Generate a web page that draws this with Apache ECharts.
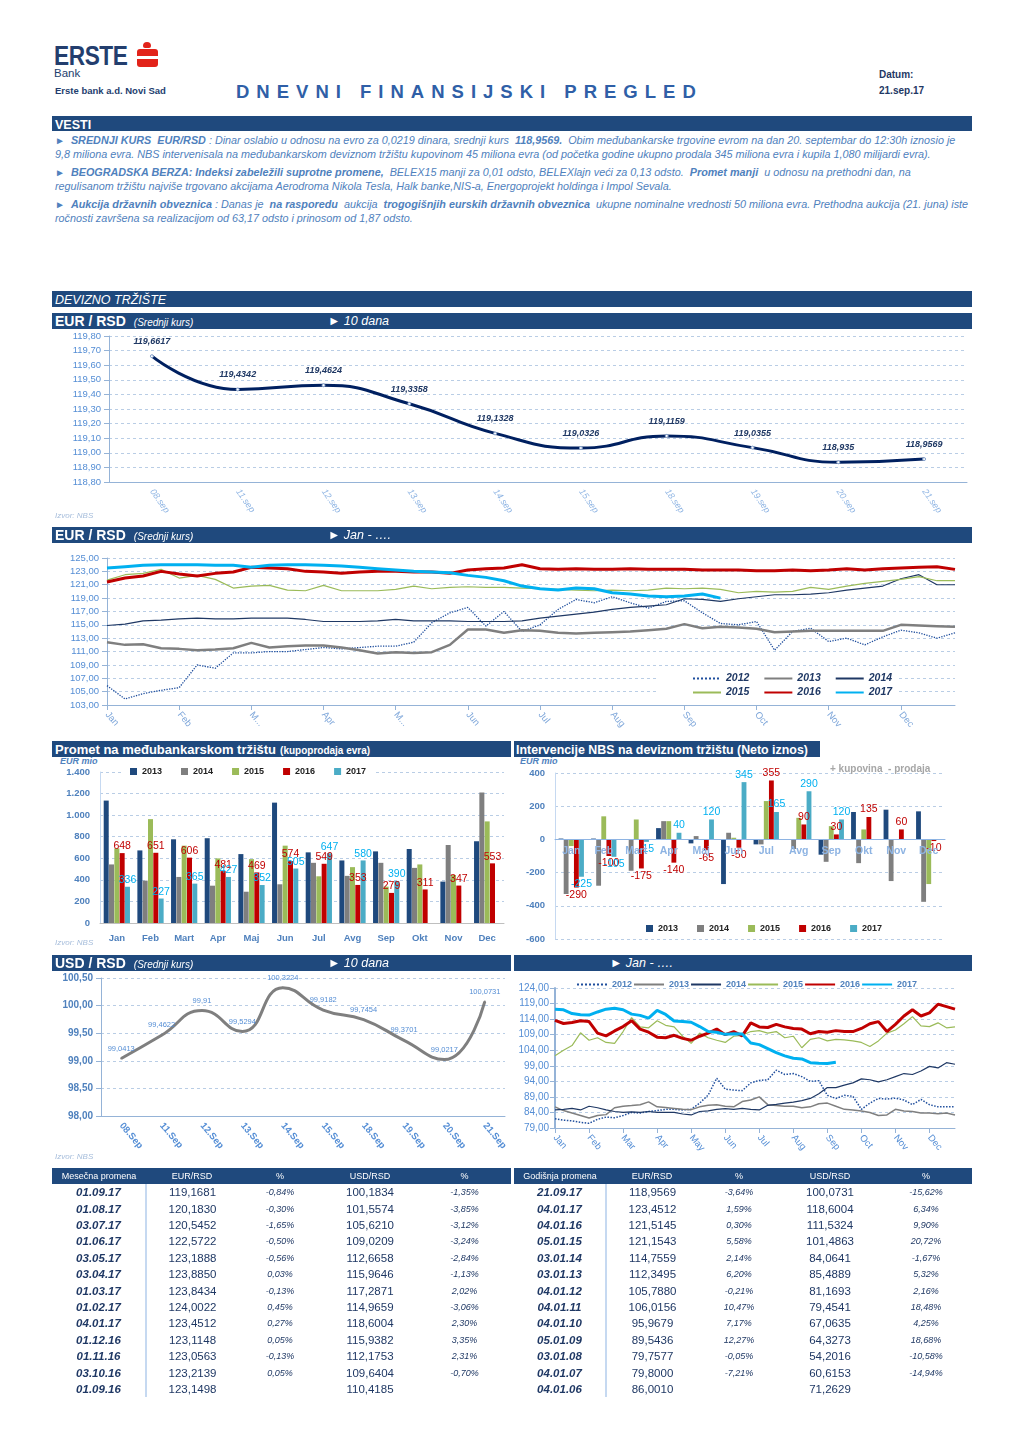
<!DOCTYPE html>
<html><head><meta charset="utf-8">
<script src="https://cdn.jsdelivr.net/npm/echarts@6/dist/echarts.min.js"></script>
<style>
body{margin:0;background:#fff;font-family:"Liberation Sans",Arial,sans-serif;}
#page{position:relative;width:1020px;height:1442px;overflow:hidden;}
.abs{position:absolute;white-space:nowrap;}
.bar{position:absolute;background:#1F497D;color:#fff;height:16px;line-height:16px;white-space:nowrap;overflow:hidden;}
.news{position:absolute;left:55px;font-size:10.8px;font-style:italic;color:#4F81BD;line-height:13.5px;white-space:nowrap;}
.news .ar{color:#4F81BD;font-style:normal;font-size:10px;}
.chart{position:absolute;}
.izvor{position:absolute;font-size:8px;font-style:italic;color:#A6BDDB;}
.eurmio{position:absolute;font-size:9px;font-style:italic;font-weight:bold;color:#4F81BD;}
table{border-collapse:collapse;table-layout:fixed;}
.tbl{position:absolute;}
.tbl th{background:#1F497D;color:#fff;font-weight:normal;font-size:9px;height:16px;padding:0;}
.tbl td{height:16.42px;padding:0;text-align:center;color:#1F3864;font-size:11.5px;line-height:16px;}
.tbl td.d{font-weight:bold;font-style:italic;border-right:2px solid #C6D9F1;}
.tbl td.p{font-style:italic;font-size:9px;}
</style></head>
<body><div id="page">

<!-- header -->
<div class="abs" style="left:54px;top:41px;font-size:27px;font-weight:bold;color:#233E6E;transform:scaleX(0.84);transform-origin:left top;letter-spacing:-0.5px;">ERSTE</div>
<div class="abs" style="left:143px;top:42px;width:8px;height:6px;border-radius:4px 4px 2px 2px;background:#E2231A;"></div>
<div class="abs" style="left:137px;top:49px;width:21px;height:18px;border-radius:3px;background:#E2231A;"></div>
<div class="abs" style="left:137px;top:56px;width:21px;height:3px;background:#fff;"></div>
<div class="abs" style="left:54px;top:67px;font-size:11.5px;color:#233E6E;">Bank</div>
<div class="abs" style="left:55px;top:85px;font-size:9.5px;font-weight:bold;color:#233E6E;">Erste bank a.d. Novi Sad</div>
<div class="abs" style="left:236px;top:81px;font-size:18.5px;font-weight:bold;color:#2F5FA7;letter-spacing:7px;">DNEVNI FINANSIJSKI PREGLED</div>
<div class="abs" style="left:879px;top:69px;font-size:10px;font-weight:bold;color:#1F3864;">Datum:</div>
<div class="abs" style="left:879px;top:85px;font-size:10px;font-weight:bold;color:#1F3864;">21.sep.17</div>

<!-- news -->
<div class="bar" style="left:52px;top:116px;width:920px;height:15px;line-height:15px;"><span style="padding-left:3px;font-weight:bold;font-size:12.5px;">VESTI</span></div>
<div class="news" style="top:134px;"><span class="ar">►</span>&nbsp; <b>SREDNJI KURS&nbsp; EUR/RSD</b> : Dinar oslabio u odnosu na evro za 0,0219 dinara, srednji kurs&nbsp; <b>118,9569.</b>&nbsp; Obim međubankarske trgovine evrom na dan 20. septembar do 12:30h iznosio je<br>9,8 miliona evra. NBS intervenisala na međubankarskom deviznom tržištu kupovinom 45 miliona evra (od početka godine ukupno prodala 345 miliona evra i kupila 1,080 milijardi evra).</div>
<div class="news" style="top:166px;"><span class="ar">►</span>&nbsp; <b>BEOGRADSKA BERZA: Indeksi zabeležili suprotne promene,</b>&nbsp; BELEX15 manji za 0,01 odsto, BELEXlajn veći za 0,13 odsto.&nbsp; <b>Promet manji</b>&nbsp; u odnosu na prethodni dan, na<br>regulisanom tržištu najviše trgovano akcijama Aerodroma Nikola Tesla, Halk banke,NIS-a, Energoprojekt holdinga i Impol Sevala.</div>
<div class="news" style="top:198px;"><span class="ar">►</span>&nbsp; <b>Aukcija državnih obveznica</b> : Danas je&nbsp; <b>na rasporedu</b>&nbsp; aukcija&nbsp; <b>trogogišnjih eurskih državnih obveznica</b>&nbsp; ukupne nominalne vrednosti 50 miliona evra. Prethodna aukcija (21. juna) iste<br>ročnosti završena sa realizacijom od 63,17 odsto i prinosom od 1,87 odsto.</div>

<!-- section -->
<div class="bar" style="left:52px;top:291px;width:920px;"><span style="padding-left:3px;font-style:italic;font-size:12.5px;">DEVIZNO TRŽIŠTE</span></div>

<div class="bar" style="left:52px;top:313px;width:920px;"><span style="padding-left:3px;font-weight:bold;font-size:14px;">EUR / RSD</span><span style="padding-left:8px;font-style:italic;font-size:10px;">(Srednji kurs)</span><span class="abs" style="left:276px;top:0;font-style:italic;font-size:12.5px;">►&nbsp;10 dana</span></div>
<div id="c1" class="chart" style="left:52px;top:330px;width:920px;height:195px;"></div>
<div class="izvor" style="left:55px;top:511px;">Izvor: NBS</div>

<div class="bar" style="left:52px;top:527px;width:920px;"><span style="padding-left:3px;font-weight:bold;font-size:14px;">EUR / RSD</span><span style="padding-left:8px;font-style:italic;font-size:10px;">(Srednji kurs)</span><span class="abs" style="left:276px;top:0;font-style:italic;font-size:12.5px;">►&nbsp;Jan - ….</span></div>
<div id="c2" class="chart" style="left:52px;top:545px;width:920px;height:190px;"></div>

<div class="bar" style="left:52px;top:741px;width:459px;"><span style="padding-left:3px;font-weight:bold;font-size:13px;">Promet na međubankarskom tržištu</span><span style="padding-left:4px;font-weight:bold;font-size:10px;">(kupoprodaja evra)</span></div>
<div class="eurmio" style="left:60px;top:756px;">EUR mio</div>
<div id="c3" class="chart" style="left:52px;top:757px;width:460px;height:195px;"></div>
<div class="izvor" style="left:55px;top:938px;">Izvor: NBS</div>

<div class="bar" style="left:514px;top:741px;width:306px;"><span style="padding-left:2px;font-weight:bold;font-size:12.4px;">Intervencije NBS na deviznom tržištu (Neto iznos)</span></div>
<div class="eurmio" style="left:520px;top:756px;">EUR mio</div>
<div id="c4" class="chart" style="left:514px;top:757px;width:458px;height:195px;"></div>
<div class="abs" style="left:830px;top:763px;font-size:10px;font-weight:bold;color:#A6A6A6;">+ kupovina&nbsp; - prodaja</div>

<div class="bar" style="left:52px;top:955px;width:459px;"><span style="padding-left:3px;font-weight:bold;font-size:14px;">USD / RSD</span><span style="padding-left:8px;font-style:italic;font-size:10px;">(Srednji kurs)</span><span class="abs" style="left:276px;top:0;font-style:italic;font-size:12.5px;">►&nbsp;10 dana</span></div>
<div id="c5" class="chart" style="left:52px;top:971px;width:460px;height:185px;"></div>
<div class="izvor" style="left:55px;top:1152px;">Izvor: NBS</div>

<div class="bar" style="left:514px;top:955px;width:458px;"><span class="abs" style="left:96px;top:0;font-style:italic;font-size:12.5px;">►&nbsp;Jan - ….</span></div>
<div id="c6" class="chart" style="left:514px;top:971px;width:458px;height:190px;"></div>

<div id="t1" class="tbl" style="left:52px;top:1168px;"></div>
<div id="t2" class="tbl" style="left:514px;top:1168px;"></div>

</div>
<script>
// ---------- DATA ----------
const tenDaysEur = ['08.sep','11.sep','12.sep','13.sep','14.sep','15.sep','18.sep','19.sep','20.sep','21.sep'];
const eur10 = [119.6617,119.4342,119.4624,119.3358,119.1328,119.0326,119.1159,119.0355,118.935,118.9569];
const tenDaysUsd = ['08.Sep','11.Sep','12.Sep','13.Sep','14.Sep','15.Sep','18.Sep','19.Sep','20.Sep','21.Sep'];
const usd10 = [99.0413,99.4622,99.91,99.5294,100.3224,99.9182,99.7454,99.3701,99.0217,100.0731];

const monthsEurAxis = ['Jan','Feb','M...','Apr','M...','Jun','Jul','Aug','Sep','Oct','Nov','Dec'];
const monthsUsdAxis = ['Jan','Feb','Mar','Apr','May','Jun','Jul','Aug','Sep','Oct','Nov','Dec'];
const years = ['2012','2013','2014','2015','2016','2017'];

// EUR/RSD weekly (4 readings per month)
const eur2012 = [105.9,103.9,104.7,105.2, 105.6,109.0,108.5,110.8, 110.8,111.0,111.0,111.3, 111.6,111.4,111.6,111.8, 111.8,112.4,115.3,116.8, 117.6,114.8,117.0,114.0, 115.0,117.3,118.8,118.3, 119.2,118.3,117.5,118.5, 118.6,116.8,115.2,115.0, 115.5,111.2,114.0,114.5, 112.5,113.0,112.0,113.2, 114.2,113.8,113.0,113.8];
const eur2013 = [112.4,112.0,112.1,111.5, 111.4,111.2,111.3,111.5, 112.3,111.6,111.8,111.9, 111.9,111.6,111.2,110.7, 110.9,110.8,110.9,112.0, 114.3,114.3,113.8,114.2, 114.1,113.8,113.7,113.8, 113.9,114.0,114.2,114.4, 115.1,114.5,114.7,114.6, 114.4,113.9,114.0,114.1, 114.1,114.1,114.1,114.1, 115.0,114.9,114.8,114.7];
const eur2014 = [114.9,115.1,115.6,115.7, 115.9,116.0,115.9,115.9, 116.0,116.0,116.0,115.8, 115.5,115.5,115.5,115.6, 115.8,115.6,115.6,115.6, 115.5,115.5,115.5,115.6, 116.0,116.3,116.6,116.9, 117.3,117.6,117.8,118.0, 118.9,118.8,118.5,118.9, 119.2,119.5,119.5,119.6, 119.8,120.2,120.5,120.8, 121.9,122.5,121.0,121.0];
const eur2015 = [121.7,122.5,122.7,123.3, 122.0,122.4,121.8,120.5, 120.8,120.9,120.2,120.1, 120.9,120.1,120.1,120.1, 120.3,120.8,120.4,120.6, 120.7,120.6,120.6,120.5, 120.4,120.3,120.2,120.1, 120.2,120.1,120.2,120.5, 120.4,120.5,120.3,119.8, 120.0,119.9,120.0,120.6, 120.3,120.8,121.2,121.5, 121.8,122.2,121.6,121.6];
const eur2016 = [121.4,122.0,122.3,123.0, 122.6,122.3,122.7,122.9, 123.6,123.5,123.4,123.0, 122.9,122.7,122.9,123.0, 123.0,122.9,122.9,122.7, 123.2,123.4,123.5,124.0, 123.4,123.3,123.4,123.3, 123.3,123.4,123.3,123.3, 123.3,123.2,123.2,123.2, 123.1,123.1,123.2,123.1, 123.2,123.4,123.2,123.4, 123.5,123.6,123.7,123.3];
const eur2017 = [123.5,123.7,123.9,124.0, 124.0,124.0,123.9,123.9, 123.6,123.9,124.0,124.0, 123.9,123.8,123.6,123.4, 123.2,123.0,122.9,122.8, 122.4,122.1,121.6,120.8, 120.4,120.2,120.5,120.4, 119.8,119.6,119.3,119.2, 119.3,119.6,119.0];

// USD/RSD weekly
const usd2012 = [82.0,81.5,81.3,80.8, 80.5,81.8,82.5,82.3, 83.0,84.0,83.8,84.3, 84.6,85.0,85.0,84.8, 85.0,87.0,89.6,95.0, 91.5,91.2,91.0,93.5, 94.3,94.5,97.6,96.2, 96.5,95.5,94.0,94.2, 89.5,88.5,89.5,89.2, 85.0,87.0,88.5,88.3, 88.6,88.0,86.5,88.2, 86.5,85.8,85.8,85.8];
const usd2013 = [85.8,84.6,83.8,83.0, 82.2,83.0,83.3,85.5, 86.0,86.2,86.5,87.4, 85.8,85.6,85.3,85.0, 84.9,85.8,86.3,86.5, 86.0,85.8,87.5,88.0, 89.0,86.5,86.2,86.0, 86.0,85.5,85.8,86.8, 87.0,86.0,85.0,84.8, 84.5,84.0,83.0,83.2, 85.0,84.5,84.3,83.8, 83.8,83.6,83.8,83.2];
const usd2014 = [84.8,85.0,85.3,84.8, 86.0,85.5,84.8,84.3, 84.0,84.2,84.0,84.3, 84.0,84.0,84.0,83.5, 83.2,84.3,84.5,85.0, 85.2,85.0,85.3,85.0, 84.8,86.3,86.6,87.0, 87.3,87.8,88.5,90.0, 92.0,92.0,92.8,93.5, 94.8,94.5,93.8,94.5, 95.5,96.5,96.2,97.3, 98.8,98.3,100.0,99.5];
const usd2015 = [102.2,104.0,105.5,109.6, 107.2,108.0,106.5,106.2, 110.0,114.5,111.5,111.2, 113.5,112.0,111.5,108.5, 106.2,109.5,108.0,107.2, 106.5,108.5,108.8,110.0, 110.3,109.5,110.0,108.0, 108.5,104.8,107.5,108.0, 107.0,107.5,107.3,107.0, 106.5,105.2,107.0,109.5, 110.5,112.5,114.8,111.8, 111.6,112.8,111.2,111.5];
const usd2016 = [113.6,112.6,112.9,113.5, 113.2,109.5,108.6,110.2, 111.6,113.5,110.8,109.8, 108.2,108.0,108.8,107.8, 107.2,108.5,109.5,110.8, 109.0,110.0,108.6,112.8, 111.5,111.3,112.3,111.5, 111.0,110.8,109.3,110.0, 109.8,110.3,110.0,110.0, 111.0,112.5,113.2,110.0, 112.3,115.0,117.0,115.0, 116.0,118.8,118.0,117.2];
const usd2017 = [117.2,117.0,115.8,115.4, 115.3,116.3,117.2,117.5, 117.0,115.6,115.2,114.3, 116.8,115.5,113.4,113.2, 113.0,111.6,110.0,109.8, 109.1,109.3,109.2,106.3, 105.8,104.5,103.2,102.2, 101.4,101.2,100.0,99.8, 99.7,100.1];

// Promet (EUR mio)
const monthsBar = ['Jan','Feb','Mart','Apr','Maj','Jun','Jul','Avg','Sep','Okt','Nov','Dec'];
const barYears = ['2013','2014','2015','2016','2017'];
const promet2013 = [1135,673,776,786,639,1116,655,580,664,686,384,758];
const promet2014 = [543,393,427,346,290,359,558,437,558,511,723,1210];
const promet2015 = [692,963,717,599,592,717,433,518,337,543,445,942];
const promet2016 = [648,651,606,481,469,574,549,353,279,311,347,553];
const promet2017 = [336,227,365,427,352,505,647,580,390,null,null,null];

// Intervencije (EUR mio)
const interv2013 = [5,5,0,68,-24,-269,-30,0,-92,165,179,169];
const interv2014 = [-329,-279,-189,110,20,40,-30,-58,-135,-143,-251,-376];
const interv2015 = [-40,139,120,110,0,10,231,130,80,60,0,-269];
const interv2016 = [-290,-100,-175,-140,-65,-50,355,90,30,135,60,-10];
const interv2017 = [-225,-105,-15,40,120,345,165,290,120,null,null,null];

// Tables
const tblHeadM = ['Mesečna promena','EUR/RSD','%','USD/RSD','%'];
const monDates = ['01.09.17','01.08.17','03.07.17','01.06.17','03.05.17','03.04.17','01.03.17','01.02.17','04.01.17','01.12.16','01.11.16','03.10.16','01.09.16'];
const monEur = ['119,1681','120,1830','120,5452','122,5722','123,1888','123,8850','123,8434','124,0022','123,4512','123,1148','123,0563','123,2139','123,1498'];
const monEurPct = ['-0,84%','-0,30%','-1,65%','-0,50%','-0,56%','0,03%','-0,13%','0,45%','0,27%','0,05%','-0,13%','0,05%',''];
const monUsd = ['100,1834','101,5574','105,6210','109,0209','112,6658','115,9646','117,2871','114,9659','118,6004','115,9382','112,1753','109,6404','110,4185'];
const monUsdPct = ['-1,35%','-3,85%','-3,12%','-3,24%','-2,84%','-1,13%','2,02%','-3,06%','2,30%','3,35%','2,31%','-0,70%',''];
const tblHeadG = ['Godišnja promena','EUR/RSD','%','USD/RSD','%'];
const yrDates = ['21.09.17','04.01.17','04.01.16','05.01.15','03.01.14','03.01.13','04.01.12','04.01.11','04.01.10','05.01.09','03.01.08','04.01.07','04.01.06'];
const yrEur = ['118,9569','123,4512','121,5145','121,1543','114,7559','112,3495','105,7880','106,0156','95,9679','89,5436','79,7577','79,8000','86,0010'];
const yrEurPct = ['-3,64%','1,59%','0,30%','5,58%','2,14%','6,20%','-0,21%','10,47%','7,17%','12,27%','-0,05%','-7,21%',''];
const yrUsd = ['100,0731','118,6004','111,5324','101,4863','84,0641','85,4889','81,1693','79,4541','67,0635','64,3273','54,2016','60,6153','71,2629'];
const yrUsdPct = ['-15,62%','6,34%','9,90%','20,72%','-1,67%','5,32%','2,16%','18,48%','4,25%','18,68%','-10,58%','-14,94%',''];

// ---------- RENDER ----------
const lblBlue = '#4F81BD';
const lightBlue = '#8EB4E3';
const axisBlue = '#95B3D7';
const dash = {lineStyle:{color:'#B9CDE5',type:[3,3],width:1}};
const comma2 = v => v.toFixed(2).replace('.', ',');
const thou = v => { const a = Math.abs(v); const s = a >= 1000 ? Math.floor(a/1000) + '.' + String(a%1000).padStart(3,'0') : String(a); return (v<0?'-':'') + s; };

function weekCats(months){ const c=[]; months.forEach((m,i)=>{for(let k=0;k<4;k++) c.push(i+'-'+k);}); return c; }

// Chart 1
const c1 = echarts.init(document.getElementById('c1'));
c1.setOption({
  animation:false,
  grid:{left:57,right:5,top:6,bottom:43},
  xAxis:{type:'category',data:tenDaysEur,boundaryGap:true,
    axisLine:{lineStyle:{color:axisBlue}},axisTick:{lineStyle:{color:axisBlue}},
    axisLabel:{rotate:-55,color:lightBlue,fontSize:9,fontStyle:'italic',margin:8}},
  yAxis:{type:'value',min:118.8,max:119.8,interval:0.1,
    axisLine:{show:true,lineStyle:{color:axisBlue}},axisTick:{show:true,lineStyle:{color:axisBlue}},
    axisLabel:{color:'#558ED5',fontSize:9.5,formatter:comma2,margin:8},splitLine:dash},
  series:[{type:'line',data:eur10,smooth:0.5,symbol:'circle',symbolSize:3,
    itemStyle:{color:'#fff',borderColor:'#7F9CC8',borderWidth:1},
    lineStyle:{color:'#002060',width:3},
    label:{show:true,position:'top',distance:8,fontSize:9,fontStyle:'italic',fontWeight:'bold',color:'#1F3864',
      formatter:p=>String(p.value).replace('.',',')}}]
});

// Chart 2
const lineYearStyle = {
  '2012':{color:'#1F4E9D',width:1.3,type:'dotted'},
  '2013':{color:'#7F7F7F',width:2.5,type:'solid'},
  '2014':{color:'#1F3864',width:1.2,type:'solid'},
  '2015':{color:'#9BBB59',width:1.2,type:'solid'},
  '2016':{color:'#C00000',width:3,type:'solid'},
  '2017':{color:'#00B0F0',width:3,type:'solid'}
};
const eurYearData = [eur2012,eur2013,eur2014,eur2015,eur2016,eur2017];
const usdYearData = [usd2012,usd2013,usd2014,usd2015,usd2016,usd2017];

function yearSeries(dataArr, overrides){
  return years.map((y,i)=>{
    const st = Object.assign({}, lineYearStyle[y], (overrides||{})[y]||{});
    return {name:y,type:'line',data:dataArr[i],symbol:'none',showSymbol:false,
      lineStyle:{color:st.color,width:st.width,type:st.type},itemStyle:{color:st.color}};
  });
}

const c2 = echarts.init(document.getElementById('c2'));
const leg2Common = {itemWidth:28,itemHeight:10,itemGap:14,backgroundColor:'#fff',padding:[1,5,1,34],
  itemStyle:{opacity:0},
  textStyle:{fontSize:10.5,fontStyle:'italic',fontWeight:'bold',color:'#1F3864',width:40}};
c2.setOption({
  animation:false,
  grid:{left:55,right:17,top:13,bottom:30},
  legend:[Object.assign({data:['2012','2013','2014'],left:606,top:127},leg2Common),
          Object.assign({data:['2015','2016','2017'],left:606,top:141},leg2Common)],
  xAxis:{type:'category',data:weekCats(monthsEurAxis),boundaryGap:false,
    axisLine:{lineStyle:{color:axisBlue}},
    axisTick:{interval:(i)=>i%4===0,lineStyle:{color:axisBlue}},
    axisLabel:{interval:(i)=>i%4===0,formatter:(v,i)=>monthsEurAxis[Math.floor(i/4)],rotate:-50,color:'#7FA7DA',fontSize:9.5,margin:8}},
  yAxis:{type:'value',min:103,max:125,interval:2,
    axisLine:{show:true,lineStyle:{color:axisBlue}},axisTick:{show:true,lineStyle:{color:axisBlue}},
    axisLabel:{color:'#558ED5',fontSize:9.5,formatter:comma2,margin:8},splitLine:dash},
  series:yearSeries(eurYearData)
});

// Chart 3 - Promet
const barColors = {'2013':'#1F497D','2014':'#7F7F7F','2015':'#9BBB59','2016':'#C00000','2017':'#4BACC6'};
const prometData = [promet2013,promet2014,promet2015,promet2016,promet2017];
const c3 = echarts.init(document.getElementById('c3'));
c3.setOption({
  animation:false,
  grid:{left:48,right:8,top:15,bottom:29},
  legend:{data:barYears,left:70,top:9,itemWidth:7,itemHeight:7,itemGap:19,icon:'rect',backgroundColor:'#fff',padding:[1,8],
    textStyle:{fontSize:9,fontWeight:'bold',color:'#222'}},
  xAxis:{type:'category',data:monthsBar,axisLine:{lineStyle:{color:'#BFBFBF'}},axisTick:{show:false},
    axisLabel:{color:lblBlue,fontWeight:'bold',fontSize:9.5,margin:10}},
  yAxis:{type:'value',min:0,max:1400,interval:200,
    axisLine:{show:true,lineStyle:{color:'#C6D9F1'}},
    axisLabel:{color:lblBlue,fontWeight:'bold',fontSize:9.5,formatter:thou,margin:10},splitLine:dash},
  series:barYears.map((y,i)=>({name:y,type:'bar',data:prometData[i],barGap:'6%',barCategoryGap:'22%',
    itemStyle:{color:barColors[y]},
    label:{show:(y==='2016'||y==='2017'),position:'top',distance:1,fontSize:10.5,
      color:(y==='2016'?'#C00000':'#00B0F0')}}))
});

// Chart 4 - Intervencije
const intervData = [interv2013,interv2014,interv2015,interv2016,interv2017];
const c4 = echarts.init(document.getElementById('c4'));
const c4gridH = 195 - 16 - 13;
c4.setOption({
  animation:false,
  grid:{left:41,right:27,top:16,bottom:13},
  legend:{data:barYears,left:124,top:166,itemWidth:7,itemHeight:7,itemGap:19,icon:'rect',backgroundColor:'#fff',padding:[1,8],
    textStyle:{fontSize:9,fontWeight:'bold',color:'#222'}},
  xAxis:{type:'category',data:monthsBar,position:'bottom',offset:-(c4gridH*600/1000),z:10,
    axisLine:{onZero:false,lineStyle:{color:lightBlue}},axisTick:{lineStyle:{color:lightBlue}},
    axisLabel:{color:lightBlue,fontWeight:'bold',fontSize:10.5,margin:6}},
  yAxis:{type:'value',min:-600,max:400,interval:200,
    axisLine:{show:true,lineStyle:{color:'#C6D9F1'}},
    axisLabel:{color:lblBlue,fontWeight:'bold',fontSize:9.5,margin:10},splitLine:dash},
  series:barYears.map((y,i)=>{
    const show = (y==='2016'||y==='2017');
    return {name:y,type:'bar',barGap:'6%',barCategoryGap:'22%',itemStyle:{color:barColors[y]},
      data:intervData[i].map(v=>({value:v,label:{show:show && v!==null,position:(v<0?'bottom':'top'),distance:2,fontSize:10.5,
        color:(y==='2016'?'#C00000':'#00B0F0')}}))};
  })
});

// Chart 5 - USD 10 dana
const c5 = echarts.init(document.getElementById('c5'));
c5.setOption({
  animation:false,
  grid:{left:49,right:7,top:7,bottom:40},
  xAxis:{type:'category',data:tenDaysUsd,boundaryGap:true,
    axisLine:{lineStyle:{color:axisBlue}},axisTick:{lineStyle:{color:axisBlue}},
    axisLabel:{rotate:-50,color:'#558ED5',fontSize:9.5,fontWeight:'bold',margin:8}},
  yAxis:{type:'value',min:98,max:100.5,interval:0.5,
    axisLine:{show:true,lineStyle:{color:axisBlue}},axisTick:{show:true,lineStyle:{color:axisBlue}},
    axisLabel:{color:lblBlue,fontSize:10,fontWeight:'bold',formatter:comma2,margin:8},splitLine:dash},
  series:[{type:'line',data:usd10,smooth:0.5,symbol:'circle',symbolSize:2,
    itemStyle:{color:'#7F7F7F'},lineStyle:{color:'#7F7F7F',width:3},
    label:{show:true,position:'top',distance:5,fontSize:7.5,color:'#558ED5',
      formatter:p=>String(p.value).replace('.',',')}}]
});

// Chart 6 - USD Jan
const c6 = echarts.init(document.getElementById('c6'));
c6.setOption({
  animation:false,
  grid:{left:41,right:17,top:17,bottom:33},
  legend:{data:years,left:57,top:4,itemWidth:30,itemHeight:8,itemGap:1,itemStyle:{opacity:0},
    textStyle:{fontSize:9,fontWeight:'bold',color:lblBlue}},
  xAxis:{type:'category',data:weekCats(monthsUsdAxis),boundaryGap:false,
    axisLine:{lineStyle:{color:axisBlue}},
    axisTick:{interval:(i)=>i%4===0,lineStyle:{color:axisBlue}},
    axisLabel:{interval:(i)=>i%4===0,formatter:(v,i)=>monthsUsdAxis[Math.floor(i/4)],rotate:-50,color:'#558ED5',fontSize:9.5,margin:8}},
  yAxis:{type:'value',min:79,max:124,interval:5,
    axisLine:{show:true,lineStyle:{color:axisBlue,width:2}},axisTick:{show:true,lineStyle:{color:axisBlue}},
    axisLabel:{color:'#558ED5',fontSize:10,formatter:comma2,margin:6},splitLine:dash},
  series:yearSeries(usdYearData,{'2013':{width:1.5},'2012':{width:1.5}})
});

// Tables
function buildTable(el, head, dates, eur, eurPct, usd, usdPct, widths){
  let h = '<table><colgroup>' + widths.map(w=>'<col style="width:'+w+'px">').join('') + '</colgroup><tr>' +
    head.map(t=>'<th>'+t+'</th>').join('') + '</tr>';
  dates.forEach((d,i)=>{
    h += '<tr><td class="d">'+d+'</td><td>'+eur[i]+'</td><td class="p">'+eurPct[i]+'</td><td>'+usd[i]+'</td><td class="p">'+usdPct[i]+'</td></tr>';
  });
  h += '</table>';
  document.getElementById(el).innerHTML = h;
}
buildTable('t1', tblHeadM, monDates, monEur, monEurPct, monUsd, monUsdPct, [94,92,84,96,93]);
buildTable('t2', tblHeadG, yrDates, yrEur, yrEurPct, yrUsd, yrUsdPct, [92,92,82,100,92]);
</script>
</body></html>
